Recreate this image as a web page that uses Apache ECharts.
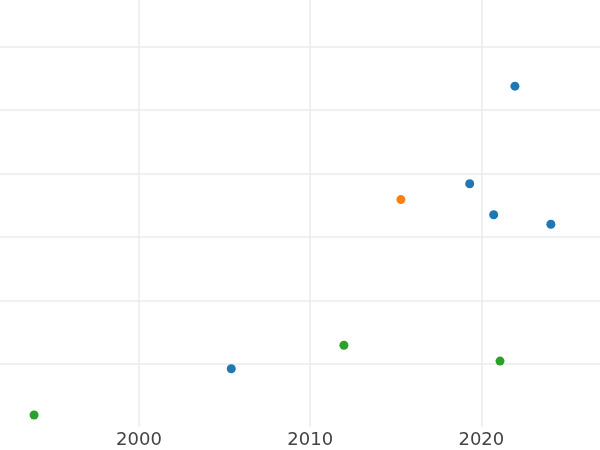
<!DOCTYPE html>
<html>
<head>
<meta charset="utf-8">
<script src="https://cdn.jsdelivr.net/npm/echarts@6/dist/echarts.min.js"></script>
<style>
  html, body { margin: 0; padding: 0; background: #fff; }
  #main { width: 600px; height: 450px; }
</style>
</head>
<body>
<div id="main"></div>
<script>
// points as [year, value], one array per colour group
const blueData = [
  [2005.39, -0.08],
  [2019.32, 2.84],
  [2020.72, 2.35],
  [2021.96, 4.38],
  [2024.06, 2.20],
];
const orangeData = [
  [2015.30, 2.59],
];
const greenData = [
  [1993.87, -0.81],
  [2011.97, 0.29],
  [2021.09, 0.04],
];
const colors = ["#1f77b4", "#ff7f0e", "#2ca02c"];

const chart = echarts.init(document.getElementById("main"));

const gridLine = { lineStyle: { color: "#ebebeb", width: 1.5 } };

const option = {
  animation: false,
  grid: { left: 0, right: 0, top: 0, bottom: 23 },
  xAxis: {
    type: "value",
    min: 1991.88,
    max: 2026.93,
    minInterval: 10,
    maxInterval: 10,
    axisLine: { show: false },
    axisTick: { show: false },
    axisLabel: {
      margin: 4,
      fontSize: 18,
      color: "#444",
      fontFamily: "DejaVu Sans",
      showMinLabel: false,
      showMaxLabel: false,
      formatter: (v) => String(Math.round(v)),
    },
    splitLine: { show: true, showMinLine: false, showMaxLine: false, ...gridLine },
  },
  yAxis: {
    type: "value",
    min: -1,
    max: 5.74,
    interval: 1,
    axisLine: { show: false },
    axisTick: { show: false },
    axisLabel: { show: false },
    splitLine: { show: true, showMinLine: false, showMaxLine: false, ...gridLine },
  },
  series: [
    { name: "blue", type: "scatter", data: blueData, symbolSize: 9, itemStyle: { color: colors[0], opacity: 1 } },
    { name: "orange", type: "scatter", data: orangeData, symbolSize: 9, itemStyle: { color: colors[1], opacity: 1 } },
    { name: "green", type: "scatter", data: greenData, symbolSize: 9, itemStyle: { color: colors[2], opacity: 1 } },
  ],
};
chart.setOption(option);
</script>
</body>
</html>
